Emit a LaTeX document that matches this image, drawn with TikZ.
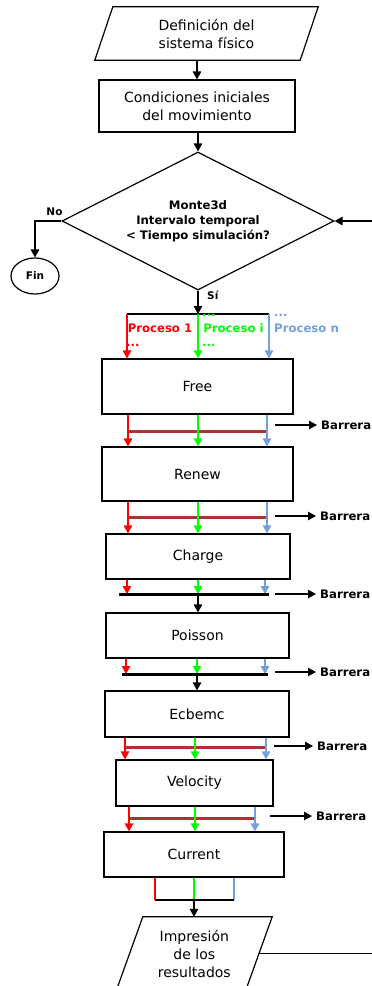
\documentclass[tikz,border=0pt]{standalone}
\usepackage{fontspec}
\setmainfont{DejaVu Sans}
\usetikzlibrary{arrows.meta,shapes.geometric}
\definecolor{pred}{RGB}{255,0,0}
\definecolor{pgreen}{RGB}{0,255,0}
\definecolor{pblue}{RGB}{114,159,222}
\definecolor{pbar}{RGB}{170,52,52}

\begin{document}
\begin{tikzpicture}[x=1pt,y=-1pt,
  every node/.style={inner sep=0pt},
  boxtxt/.style={font=\fontsize{14}{18}\selectfont, align=center},
  stepbox/.style={boxtxt, draw, line width=1.2pt, rectangle},
  iotext/.style={boxtxt, rectangle},
  tag/.style={font=\fontsize{11.7}{15}\bfseries\selectfont},
  small/.style={font=\fontsize{10.5}{12}\bfseries\selectfont},
  flow/.style={line width=1.2pt, -{Triangle[length=8pt,width=8.5pt]}},
  wire/.style={line width=1.2pt},
  redbar/.style={line width=3pt, pbar},
  blackbar/.style={line width=3pt, black},
  barlabel/.style={tag, anchor=west, inner xsep=4pt, inner ysep=1pt},
]
\useasboundingbox (0,0) rectangle (372,986);
\clip (0,0) rectangle (372,986);

% ---- main chain ----
\node[iotext, minimum width=205pt, minimum height=53pt]
      (def) at (206.5,33.5) {Definición del\\sistema físico};
\draw[wire, line join=miter]
      ([xshift=9pt]def.north west) -- ([xshift=9pt]def.north east)
   -- ([xshift=-9pt]def.south east) -- ([xshift=-9pt]def.south west) -- cycle;
\node[stepbox, minimum width=196pt, minimum height=52pt]
      (init) at (197,106) {Condiciones iniciales\\del movimiento};
\node[draw, line width=1.2pt, diamond, aspect=1.97, minimum width=272pt,
      minimum height=138pt, tag, align=center]
      (cond) at (198,221) {Monte3d\\Intervalo temporal\\< Tiempo simulación?};
\node[draw, line width=1.2pt, ellipse, minimum width=48pt, minimum height=36pt, small]
      (fin) at (35,276) {Fin};

\node[stepbox, minimum width=191pt, minimum height=55pt] (free)    at (197.5,386.5) {Free};
\node[stepbox, minimum width=191pt, minimum height=54pt] (renew)   at (197.5,474)   {Renew};
\node[stepbox, minimum width=184pt, minimum height=45pt] (charge)  at (198,556.5)   {Charge};
\node[stepbox, minimum width=183pt, minimum height=45pt] (poisson) at (197.5,635.5) {Poisson};
\node[stepbox, minimum width=184pt, minimum height=46pt] (ecbemc)  at (197,714)     {Ecbemc};
\node[stepbox, minimum width=157pt, minimum height=46pt] (velocity) at (194.5,783)  {Velocity};
\node[stepbox, minimum width=180pt, minimum height=45pt] (current) at (194,854.5)   {Current};
\node[iotext, minimum width=129pt, minimum height=73pt]
      (imp) at (194.3,953.5) {Impresión\\de los\\resultados};
\draw[wire, line join=miter]
      ([xshift=13.2pt]imp.north west) -- ([xshift=13.2pt]imp.north east)
   -- ([xshift=-13.2pt]imp.south east) -- ([xshift=-13.2pt]imp.south west) -- cycle;

\draw[flow] (def.south -| init.north) -- (init.north);
\draw[flow] (init.south -| cond.north) -- (cond.north);

% decision branches
\node[small] (no) at (54.5,212) {No};
\draw[flow] (cond.west) -| (fin.north);
\node[small, anchor=west] (si) at (207,295) {Sí};
\draw[flow] (imp.east) -- ++(140,0) |- (cond.east);

% ---- split into parallel processes ----
\coordinate (split) at (198,314);
\coordinate (sL) at (127,314);
\coordinate (sR) at (269,314);
\draw[flow] (cond.south) -- (split);
\draw[wire] (sL) -- (sR);
\draw[flow,pred] (sL) -- (sL |- free.north);
\draw[flow,pgreen] (split) -- (split |- free.north);
\draw[flow,pblue] (sR) -- (sR |- free.north);

\node[tag, text=pred] (p1) at (160,328) {Proceso 1};
\node[tag, text=pgreen] (pi) at (233.5,328) {Proceso i};
\node[tag, text=pblue, anchor=west] (pn) at (274,328) {Proceso n};
\node[tag, text=pred, anchor=west] (d1) at (126,345) {...};
\node[tag, text=pgreen, anchor=west] (d2) at (202,315) {...};
\node[tag, text=pgreen, anchor=west] (d3) at (202,345) {...};
\node[tag, text=pblue, anchor=west] (d4) at (274,315) {...};

% ---- Free -> Renew ----
\coordinate (r1) at (128,431);
\coordinate (g1) at (198,431);
\coordinate (b1) at (267,431);
\draw[redbar] (r1) -- (b1);
\draw[flow,pred] (free.south -| r1) -- (renew.north -| r1);
\draw[flow,pgreen] (free.south -| g1) -- (renew.north -| g1);
\draw[flow,pblue] (free.south -| b1) -- (renew.north -| b1);
\coordinate (a1) at (275,425);
\node[barlabel] (l1) at (317,425) {Barrera};
\draw[flow] (a1) -- (l1);

% ---- Renew -> Charge ----
\coordinate (r2) at (128,517);
\coordinate (g2) at (198,517);
\coordinate (b2) at (267,517);
\draw[redbar] (r2) -- (b2);
\draw[flow,pred] (renew.south -| r2) -- (charge.north -| r2);
\draw[flow,pgreen] (renew.south -| g2) -- (charge.north -| g2);
\draw[flow,pblue] (renew.south -| b2) -- (charge.north -| b2);
\coordinate (a2) at (275,516);
\node[barlabel] (l2) at (316,516) {Barrera};
\draw[flow] (a2) -- (l2);

% ---- Charge -> Poisson ----
\coordinate (r3) at (127,594);
\coordinate (g3) at (198,594);
\coordinate (b3) at (265,594);
\coordinate (k3l) at (119,594);
\coordinate (k3r) at (269,594);
\draw[flow,pred] (charge.south -| r3) -- (r3);
\draw[flow,pgreen] (charge.south -| g3) -- (g3);
\draw[flow,pblue] (charge.south -| b3) -- (b3);
\draw[blackbar] (k3l) -- (k3r);
\draw[flow] (g3) -- (g3 |- poisson.north);
\coordinate (a3) at (275,594);
\node[barlabel] (l3) at (316,594) {Barrera};
\draw[flow] (a3) -- (l3);

% ---- Poisson -> Ecbemc ----
\coordinate (r4) at (126,674);
\coordinate (g4) at (197,674);
\coordinate (b4) at (265,674);
\coordinate (k4l) at (122,674);
\coordinate (k4r) at (268,674);
\draw[flow,pred] (poisson.south -| r4) -- (r4);
\draw[flow,pgreen] (poisson.south -| g4) -- (g4);
\draw[flow,pblue] (poisson.south -| b4) -- (b4);
\draw[blackbar] (k4l) -- (k4r);
\draw[flow] (g4) -- (g4 |- ecbemc.north);
\coordinate (a4) at (275,672);
\node[barlabel] (l4) at (316,672) {Barrera};
\draw[flow] (a4) -- (l4);

% ---- Ecbemc -> Velocity ----
\coordinate (r5) at (125,747);
\coordinate (g5) at (195,747);
\coordinate (b5) at (266,747);
\draw[redbar] (r5) -- (b5);
\draw[flow,pred] (ecbemc.south -| r5) -- (velocity.north -| r5);
\draw[flow,pgreen] (ecbemc.south -| g5) -- (velocity.north -| g5);
\draw[flow,pblue] (ecbemc.south -| b5) -- (velocity.north -| b5);
\coordinate (a5) at (274,746);
\node[barlabel] (l5) at (313,746) {Barrera};
\draw[flow] (a5) -- (l5);

% ---- Velocity -> Current ----
\coordinate (r6) at (129,818);
\coordinate (g6) at (195,818);
\coordinate (b6) at (255,818);
\draw[redbar] (r6) -- (b6);
\draw[flow,pred] (velocity.south -| r6) -- (current.north -| r6);
\draw[flow,pgreen] (velocity.south -| g6) -- (current.north -| g6);
\draw[flow,pblue] (velocity.south -| b6) -- (current.north -| b6);
\coordinate (a6) at (270,816);
\node[barlabel] (l6) at (312,816) {Barrera};
\draw[flow] (a6) -- (l6);

% ---- join of the processes ----
\coordinate (r7) at (155,900);
\coordinate (g7) at (194,900);
\coordinate (b7) at (234,900);
\draw[wire,pred] (current.south -| r7) -- (r7);
\draw[wire,pgreen] (current.south -| g7) -- (g7);
\draw[wire,pblue] (current.south -| b7) -- (b7);
\draw[wire] (r7) -- (b7);
\draw[flow] (g7) -- (g7 |- imp.north);
\end{tikzpicture}
\end{document}
